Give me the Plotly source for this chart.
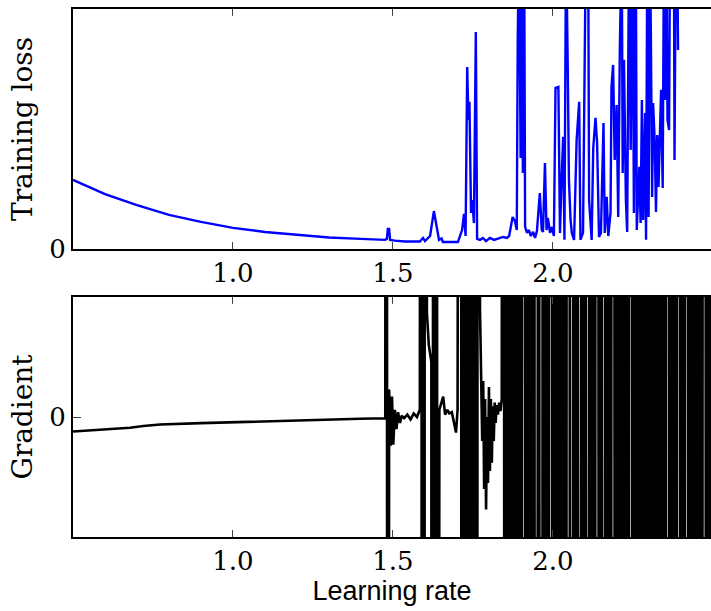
import plotly.graph_objects as go

# Training loss vs learning rate (loss in arbitrary units, axis top = 1.0)
loss_points = [
    (0.500, 0.288), (0.600, 0.229), (0.700, 0.183), (0.800, 0.142), (0.900, 0.113),
    (1.000, 0.088), (1.100, 0.071), (1.200, 0.058), (1.300, 0.048), (1.400, 0.042),
    (1.475, 0.038), (1.481, 0.042), (1.484, 0.083), (1.488, 0.083), (1.491, 0.038),
    (1.506, 0.035), (1.538, 0.031), (1.584, 0.031), (1.594, 0.046), (1.600, 0.033),
    (1.616, 0.054), (1.628, 0.158), (1.634, 0.113), (1.644, 0.038), (1.652, 0.044),
    (1.656, 0.029), (1.703, 0.029), (1.716, 0.079), (1.722, 0.146), (1.727, 0.054),
    (1.732, 0.758), (1.736, 0.538), (1.739, 0.613), (1.744, 0.150), (1.748, 0.204),
    (1.753, 0.108), (1.759, 0.904), (1.763, 0.042), (1.772, 0.038), (1.781, 0.046),
    (1.791, 0.033), (1.803, 0.046), (1.816, 0.038), (1.828, 0.042), (1.844, 0.050),
    (1.856, 0.046), (1.863, 0.054), (1.874, 0.133), (1.881, 0.117), (1.887, 0.079),
    (1.890, 0.879), (1.894, 1.3), (1.899, 0.379), (1.903, 1.3), (1.906, 0.317),
    (1.910, 1.3), (1.913, 0.092), (1.919, 0.067), (1.925, 0.079), (1.931, 0.054),
    (1.938, 0.071), (1.944, 0.046), (1.950, 0.075), (1.959, 0.233), (1.965, 0.079),
    (1.969, 0.071), (1.975, 0.358), (1.980, 0.079), (1.984, 0.129), (1.991, 0.067),
    (1.997, 0.092), (2.003, 0.054), (2.008, 0.671), (2.017, 0.675), (2.022, 0.067),
    (2.027, 0.288), (2.032, 0.467), (2.036, 0.038), (2.041, 1.3), (2.046, 0.788),
    (2.050, 0.288), (2.055, 0.121), (2.059, 0.067), (2.066, 0.038), (2.074, 0.454),
    (2.082, 0.613), (2.086, 0.038), (2.094, 0.067), (2.103, 1.3), (2.110, 1.3),
    (2.113, 0.204), (2.121, 0.038), (2.126, 0.421), (2.133, 0.546), (2.138, 0.442),
    (2.144, 0.050), (2.150, 0.067), (2.158, 0.525), (2.162, 0.067), (2.168, 0.217),
    (2.173, 0.054), (2.180, 0.150), (2.183, 0.675), (2.188, 0.767), (2.193, 0.371),
    (2.199, 0.600), (2.204, 0.133), (2.209, 0.829), (2.215, 1.3), (2.218, 0.317),
    (2.222, 0.788), (2.228, 0.204), (2.232, 0.071), (2.238, 1.3), (2.243, 0.413),
    (2.249, 1.3), (2.253, 0.150), (2.259, 1.3), (2.262, 0.079), (2.270, 0.342),
    (2.274, 0.108), (2.278, 0.621), (2.282, 0.121), (2.288, 0.567), (2.291, 0.038),
    (2.295, 1.3), (2.299, 0.133), (2.303, 1.3), (2.306, 0.900), (2.310, 0.217),
    (2.313, 0.608), (2.318, 0.454), (2.322, 0.154), (2.326, 0.475), (2.330, 0.258),
    (2.334, 0.425), (2.338, 0.663), (2.343, 0.254), (2.347, 1.3), (2.351, 0.621),
    (2.355, 1.3), (2.358, 0.538), (2.363, 0.496), (2.366, 1.3), (2.378, 1.3),
    (2.380, 0.371), (2.384, 1.3), (2.388, 1.3), (2.391, 0.829),
]

# Gradient of the loss (axis spans -1 .. 1); values of +/-20 are off-scale
grad_points = [
    (0.500, -0.121), (0.600, -0.105), (0.678, -0.090), (0.720, -0.075), (0.772, -0.063),
    (0.900, -0.051), (1.001, -0.043), (1.157, -0.029), (1.300, -0.020), (1.397, -0.015),
    (1.476, -0.010), (1.480, 20), (1.483, -20), (1.488, 0.23), (1.493, -0.24),
    (1.497, 0.17), (1.501, -0.23), (1.506, 0.06), (1.511, -0.10), (1.516, 0.04),
    (1.522, -0.05), (1.527, 0.01), (1.535, -0.01), (1.545, 0.02), (1.555, -0.02),
    (1.565, 0.03), (1.575, 0.00), (1.584, 0.06),
    (1.588, 20), (1.591, -20), (1.594, 20), (1.597, -20), (1.601, 20),
    (1.606, 0.87), (1.612, 0.60), (1.620, 0.46), (1.623, -20), (1.627, 20),
    (1.631, -20), (1.636, 20), (1.640, -20), (1.645, 0.06), (1.650, 0.10),
    (1.657, 0.17), (1.663, 0.02), (1.670, 0.06), (1.676, 0.03), (1.684, 0.04),
    (1.691, -0.05), (1.697, -0.13), (1.702, 0.06),
    (1.712, 20), (1.715, -20), (1.718, 20), (1.721, -20), (1.724, 20), (1.727, -20),
    (1.730, 20), (1.733, -20), (1.738, 20), (1.741, -20), (1.744, 20), (1.747, -20),
    (1.753, 20), (1.756, -20), (1.759, 20), (1.762, -20), (1.766, 20),
    (1.772, 0.90), (1.776, 0.37), (1.779, -0.20), (1.782, 0.30), (1.785, -0.60),
    (1.788, 0.15), (1.791, -0.77), (1.794, 0.00), (1.797, -0.55), (1.800, 0.25),
    (1.803, -0.45), (1.806, 0.15), (1.809, -0.38), (1.812, 0.09), (1.815, -0.20),
    (1.818, 0.12), (1.821, -0.05), (1.824, 0.10), (1.828, 0.02), (1.832, 0.12),
    (1.836, 0.05), (1.840, 0.15),
    (1.845, 20), (1.850, -20), (1.855, 20), (1.860, -20), (1.865, 20), (1.870, -20),
    (1.875, 20), (1.880, -20), (1.885, 20), (1.890, -20), (1.895, 20), (1.900, -20),
    (1.905, 20), (1.910, 20), (1.915, -20), (1.920, 20), (1.925, -20), (1.930, 20),
    (1.935, -20), (1.940, 20), (1.945, -20), (1.950, -20), (1.955, 20), (1.960, -20),
    (1.965, -20), (1.970, 20), (1.975, -20), (1.980, 20), (1.985, -20), (1.990, 20),
    (1.995, 20), (2.000, -20), (2.005, 20), (2.010, -20), (2.015, 20), (2.020, -20),
    (2.025, 20), (2.030, -20), (2.035, 20), (2.040, -20), (2.045, 20), (2.050, 20),
    (2.055, -20), (2.060, -20), (2.065, 20), (2.070, -20), (2.075, 20), (2.080, -20),
    (2.085, -20), (2.090, 20), (2.095, -20), (2.100, 20), (2.105, -20), (2.110, -20),
    (2.115, 20), (2.120, -20), (2.125, 20), (2.130, -20), (2.135, 20), (2.140, 20),
    (2.145, -20), (2.150, 20), (2.155, -20), (2.160, -20), (2.165, 20), (2.170, -20),
    (2.175, 20), (2.180, -20), (2.185, 20), (2.190, 20), (2.195, -20), (2.200, 20),
    (2.205, -20), (2.210, 20), (2.215, -20), (2.220, 20), (2.225, -20), (2.230, 20),
    (2.235, -20), (2.240, 20), (2.245, 20), (2.250, -20), (2.255, 20), (2.260, -20),
    (2.265, 20), (2.270, -20), (2.275, 20), (2.280, -20), (2.285, 20), (2.290, -20),
    (2.295, 20), (2.300, -20), (2.305, 20), (2.310, -20), (2.315, 20), (2.320, -20),
    (2.325, 20), (2.330, -20), (2.335, 20), (2.340, -20), (2.345, 20), (2.350, -20),
    (2.355, 20), (2.360, 20), (2.365, -20), (2.370, 20), (2.375, -20), (2.380, 20),
    (2.385, -20), (2.390, 20), (2.395, 20), (2.400, -20), (2.405, 20), (2.410, -20),
    (2.415, 20), (2.420, 20), (2.425, -20), (2.430, 20), (2.435, -20), (2.440, 20),
    (2.445, -20), (2.450, 20), (2.455, -20), (2.460, 20), (2.465, -20), (2.470, 20),
    (2.475, 20), (2.480, -20), (2.485, 20), (2.490, -20), (2.495, 20), (2.500, -20),
]

x_tick_vals = [1.0, 1.5, 2.0]
x_tick_text = ["1.0", "1.5", "2.0"]
x_range = [0.5, 2.494]
loss_range = [0, 1.0]
grad_range = [-1.0, 1.0]

lr_loss = [p[0] for p in loss_points]
loss = [p[1] for p in loss_points]
lr_grad = [p[0] for p in grad_points]
grad = [p[1] for p in grad_points]

serif = "DejaVu Serif"
tick_font = dict(family=serif, size=26, color="black")

fig = go.Figure()
fig.add_trace(go.Scatter(x=lr_loss, y=loss, mode="lines",
                         line=dict(color="#0000ff", width=2.4),
                         xaxis="x", yaxis="y", showlegend=False, hoverinfo="skip"))
fig.add_trace(go.Scatter(x=lr_grad, y=grad, mode="lines",
                         line=dict(color="black", width=2.6),
                         xaxis="x2", yaxis="y2", showlegend=False, hoverinfo="skip"))

xcommon = dict(range=x_range, tickvals=x_tick_vals, ticktext=x_tick_text,
               ticks="inside", ticklen=7, tickwidth=1, tickcolor="#444",
               showline=True, linecolor="black", linewidth=2, mirror="ticks",
               showgrid=False, zeroline=False, tickfont=tick_font, automargin=False)
ycommon = dict(tickvals=[0], ticktext=["0"], ticks="inside", ticklen=8,
               tickwidth=1, tickcolor="#444", showline=True, linecolor="black",
               linewidth=2, showgrid=False, zeroline=False, tickfont=tick_font,
               automargin=False)

fig.update_layout(
    width=711, height=611,
    margin=dict(l=73, r=0, t=9, b=74),
    paper_bgcolor="white", plot_bgcolor="white",
    xaxis=dict(domain=[0, 1], anchor="y", **xcommon),
    yaxis=dict(domain=[0.5455, 1], anchor="x", range=loss_range,
               title=dict(text="Training loss", font=dict(family=serif, size=28, color="black"),
                          standoff=8),
               **ycommon),
    xaxis2=dict(domain=[0, 1], anchor="y2",
                title=dict(text="Learning rate",
                           font=dict(family="Liberation Sans", size=27, color="black"),
                           standoff=2),
                **xcommon),
    yaxis2=dict(domain=[0, 0.4545], anchor="x2", range=grad_range,
                title=dict(text="Gradient", font=dict(family=serif, size=28, color="black"),
                           standoff=8),
                **ycommon),
)

fig.write_html(
    "out.html",
    config={"displayModeBar": False},
    post_script="document.body.style.margin='0';document.body.style.overflow='hidden';",
)
